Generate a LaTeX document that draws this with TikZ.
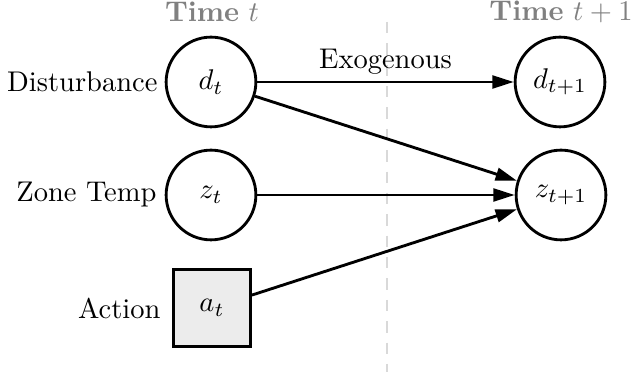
\documentclass[tikz,border=0pt]{standalone}
\usetikzlibrary{arrows.meta,positioning}
\begin{document}
\begin{tikzpicture}[x=0.351pt,y=-0.351pt,
  statenode/.style={circle,draw,line width=1pt,minimum size=31.5pt,inner sep=0pt},
  actnode/.style={rectangle,draw,line width=1pt,fill=gray!15,minimum size=27pt,inner sep=0pt},
  lbl/.style={anchor=east,inner sep=0pt},
  timelbl/.style={text=gray},
  arr/.style={line width=1pt,-{Triangle[length=7.5pt,width=4.5pt]}}]
\useasboundingbox (0,0) rectangle (632,374);
\coordinate (ltop) at (387,22);
\coordinate (lbot) at (387,372);
\draw[gray!30,line width=0.6pt,dash pattern=on 4pt off 3.5pt] (ltop) -- (lbot);
\node[timelbl] (tt) at (212,12) {\textbf{Time} $t$};
\node[timelbl] (tt1) at (561,12) {\textbf{Time} $t+1$};
\node[statenode] (dt) at (211,82) {$d_t$};
\node[statenode] (zt) at (211,195) {$z_t$};
\node[actnode] (at) at (212,308) {$a_t$};
\node[statenode] (dt1) at (560,82) {$d_{t+1}$};
\node[statenode] (zt1) at (561,195) {$z_{t+1}$};
\node[lbl] (ld) at (158,82) {Disturbance};
\node[lbl] (lz) at (157,195) {Zone Temp};
\node[lbl] (la) at (161,308) {Action};
\draw[arr] (dt) -- node[above=-1pt] (exo) {Exogenous} (dt1);
\draw[arr] (dt) -- (zt1);
\draw[arr] (zt) -- (zt1);
\draw[arr] (at) -- (zt1);
\end{tikzpicture}
\end{document}
